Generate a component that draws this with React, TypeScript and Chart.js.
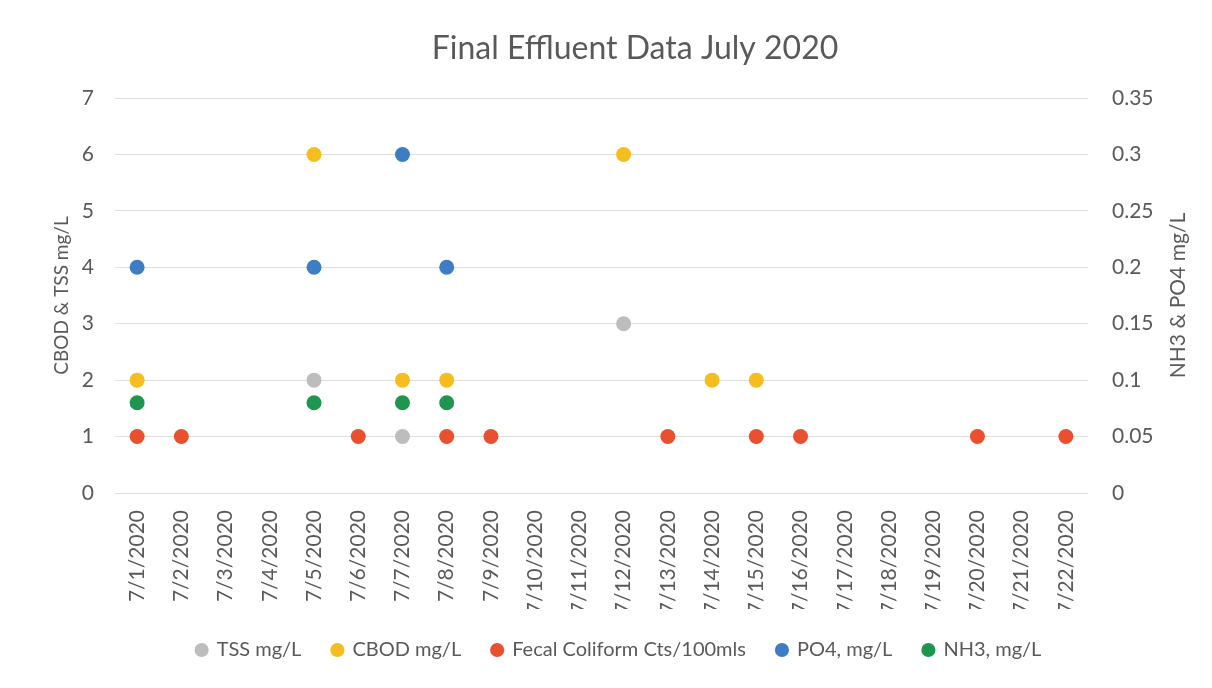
import React, { useEffect, useRef } from "react";
import { Chart, registerables } from "chart.js";

Chart.register(...registerables);

const categories = [
  "7/1/2020", "7/2/2020", "7/3/2020", "7/4/2020", "7/5/2020", "7/6/2020",
  "7/7/2020", "7/8/2020", "7/9/2020", "7/10/2020", "7/11/2020", "7/12/2020",
  "7/13/2020", "7/14/2020", "7/15/2020", "7/16/2020", "7/17/2020", "7/18/2020",
  "7/19/2020", "7/20/2020", "7/21/2020", "7/22/2020",
];

const tss = [null, null, null, null, 2, null, 1, null, null, null, null, 3, null, null, null, null, null, null, null, null, null, null];
const cbod = [2, null, null, null, 6, null, 2, 2, null, null, null, 6, null, 2, 2, null, null, null, null, null, null, null];
const fecal = [1, 1, null, null, null, 1, null, 1, 1, null, null, null, 1, null, 1, 1, null, null, null, 1, null, 1];
const po4 = [0.2, null, null, null, 0.2, null, 0.3, 0.2, null, null, null, null, null, null, null, null, null, null, null, null, null, null];
const nh3 = [0.08, null, null, null, 0.08, null, 0.08, 0.08, null, null, null, null, null, null, null, null, null, null, null, null, null, null];

const chartTitle = "Final Effluent Data July 2020";
const leftAxisTitle = "CBOD & TSS mg/L";
const rightAxisTitle = "NH3 & PO4 mg/L";

const TEXT = "#595959";
const FONT = "Lato";

const textPlugin = {
  id: "customText",
  afterDraw(chart: any) {
    const { ctx, chartArea } = chart;
    ctx.save();
    ctx.fillStyle = TEXT;
    ctx.textAlign = "center";
    ctx.textBaseline = "middle";
    ctx.font = `32px ${FONT}`;
    ctx.fillText(chartTitle, 627, 41);
    ctx.translate(1170, (chartArea.top + chartArea.bottom) / 2);
    ctx.rotate(-Math.PI / 2);
    ctx.font = `21px ${FONT}`;
    ctx.fillText(rightAxisTitle, 0, 0);
    ctx.restore();
  },
};

export default function App() {
  const ref = useRef<HTMLCanvasElement | null>(null);

  useEffect(() => {
    if (!ref.current) return;
    const mk = (label: string, data: any[], color: string, axis: string) => ({
      label,
      data,
      yAxisID: axis,
      showLine: false,
      backgroundColor: color,
      borderColor: color,
      pointRadius: 7.5,
      pointHoverRadius: 7.5,
      pointBorderWidth: 0,
      pointStyle: "circle",
    });
    const chart = new Chart(ref.current, {
      type: "line",
      data: {
        labels: categories,
        datasets: [
          mk("TSS mg/L", tss, "#BDBDBD", "y"),
          mk("CBOD mg/L", cbod, "#F5BE1E", "y"),
          mk("Fecal Coliform Cts/100mls", fecal, "#E8502F", "y"),
          mk("PO4, mg/L", po4, "#3C7DC4", "y1"),
          mk("NH3, mg/L", nh3, "#1E9650", "y1"),
        ],
      },
      options: {
        animation: false,
        responsive: true,
        maintainAspectRatio: false,
        layout: { padding: { top: 90, left: 26, right: 0, bottom: 10 } },
        plugins: {
          title: { display: false },
          tooltip: { enabled: false },
          legend: {
            position: "bottom",
            labels: {
              usePointStyle: true,
              pointStyle: "circle",
              boxWidth: 10,
              boxHeight: 10,
              padding: 31,
              color: TEXT,
              font: { family: FONT, size: 20 },
            },
          },
        },
        scales: {
          x: {
            type: "category",
            offset: true,
            grid: { display: false, drawTicks: false },
            border: { display: false },
            ticks: {
              autoSkip: false,
              minRotation: 90,
              maxRotation: 90,
              padding: 17,
              color: TEXT,
              font: { family: FONT, size: 21 },
            },
            afterFit: (s: any) => { s.height = 116; },
          },
          y: {
            position: "left",
            min: 0,
            max: 7,
            ticks: { stepSize: 1, padding: 21, color: TEXT, font: { family: FONT, size: 21 } },
            grid: { color: "#DDDDDD", drawTicks: false, lineWidth: 1 },
            border: { display: false },
            title: {
              display: true,
              text: leftAxisTitle,
              color: TEXT,
              font: { family: FONT, size: 19 },
              padding: { top: 16, bottom: 0 },
            },
            afterFit: (s: any) => { s.width = 81; },
          },
          y1: {
            position: "right",
            min: 0,
            max: 0.35,
            ticks: {
              stepSize: 0.05,
              padding: 24,
              color: TEXT,
              font: { family: FONT, size: 21 },
              callback: (v: any) => String(Number(Number(v).toFixed(2))),
            },
            grid: { display: false, drawTicks: false },
            border: { display: false },
            afterFit: (s: any) => { s.width = 116; },
          },
        },
      },
      plugins: [textPlugin],
    } as any);
    return () => chart.destroy();
  }, []);

  return (
    <div style={{ width: 1196, height: 672, position: "relative" }}>
      <canvas ref={ref} />
    </div>
  );
}
